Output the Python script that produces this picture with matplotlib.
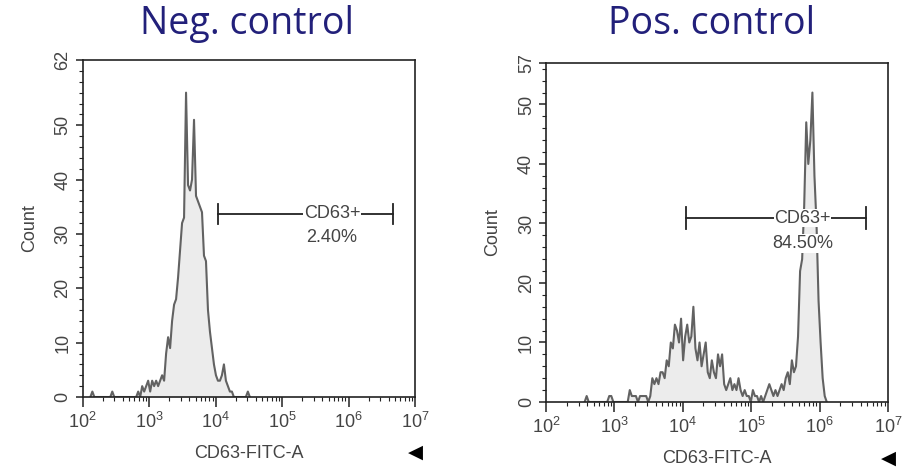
import numpy as np
import matplotlib
matplotlib.use("Agg")
import matplotlib.pyplot as plt
from matplotlib.ticker import LogLocator, FixedLocator, MultipleLocator, NullFormatter

plt.rcParams['font.family'] = ['Liberation Sans', 'DejaVu Sans']
plt.rcParams['mathtext.fontset'] = 'custom'
plt.rcParams['mathtext.rm'] = 'Liberation Sans'
plt.rcParams['mathtext.it'] = 'Liberation Sans'

# histogram bins: log10 of left edge of first bin, bin width in decades
bin_width = 0.03

neg_start = 2.10
neg_counts = [0, 1, 0, 0, 0, 0, 0, 0, 0, 0, 0, 1, 0, 0, 0, 0, 0, 0, 0, 0, 0, 0, 0, 0,
              1, 0, 2, 1, 2, 3, 1, 3, 2, 3, 2, 3, 4, 3, 8, 11, 9, 14, 17, 18, 22, 27,
              32, 33, 56, 39, 38, 40, 51, 37, 36, 35, 34, 26, 25, 16, 12, 9, 6, 4, 3,
              3, 4, 6, 3, 2, 1, 1, 0, 0, 0, 0, 0, 0, 0, 1, 0]

pos_start = 2.55
pos_counts = [0, 1, 0, 0, 0, 0, 0, 0, 0, 0, 0, 0, 1, 1, 0, 0, 0, 0, 0, 0, 0, 0,
              2, 1, 1, 1, 0, 1, 1, 1, 1, 0, 1, 4, 3, 4, 3, 5, 5, 4, 7, 6, 10, 9, 13,
              12, 10, 14, 7, 11, 13, 10, 11, 16, 9, 7, 10, 6, 8, 10, 5, 4, 7, 5, 4,
              8, 6, 8, 3, 2, 3, 4, 2, 3, 2, 4, 2, 1, 2, 1, 1, 0, 2, 1, 1, 0, 1, 0,
              1, 2, 3, 2, 1, 2, 1, 2, 3, 2, 4, 5, 3, 7, 5, 6, 11, 22, 24, 33, 47,
              40, 44, 52, 38, 30, 17, 10, 4, 1, 0]

panels = [
    # title, start, counts, ymax, gate (lo, hi, y), percent, axes rect, title x
    ("Neg. control", neg_start, neg_counts, 62, (4.04, 6.67, 33.7), "2.40%",
     [0.0906, 0.1535, 0.3639, 0.7185], 0.270),
    ("Pos. control", pos_start, pos_counts, 57, (4.04, 6.68, 30.9), "84.50%",
     [0.598, 0.1429, 0.3746, 0.7232], 0.779),
]

fig = plt.figure(figsize=(9.13, 4.69), dpi=100)

for title, start, counts, ymax, gate, pct, rect, title_x in panels:
    ax = fig.add_axes(rect)
    counts = np.array(counts, dtype=float)
    centers = 10 ** (start + bin_width * (np.arange(len(counts)) + 0.5))
    ax.fill_between(centers, 0, counts, color='#ececec', lw=0, zorder=1)
    ax.plot(centers, counts, color='#626262', lw=1.5, zorder=2)

    ax.set_xscale('log')
    ax.set_xlim(1e2, 1e7)
    ax.set_ylim(0, ymax)
    ax.xaxis.set_major_locator(LogLocator(base=10, numticks=10))
    ax.xaxis.set_minor_locator(LogLocator(base=10, subs=np.arange(2, 10), numticks=20))
    ax.xaxis.set_minor_formatter(NullFormatter())
    ax.yaxis.set_major_locator(FixedLocator([0, 10, 20, 30, 40, 50, ymax]))
    ax.yaxis.set_minor_locator(MultipleLocator(2))
    ax.tick_params(which='major', direction='out', length=5, width=1.1,
                   labelsize=13, colors='#222222', labelcolor='#444444')
    ax.tick_params(which='minor', direction='out', length=3, width=0.8, colors='#222222')
    ax.tick_params(axis='x', which='major', length=7, pad=4)
    ax.tick_params(axis='y', which='major', pad=3)
    for lab in ax.get_yticklabels():
        lab.set_rotation(90)
        lab.set_va('center')
    for s in ax.spines.values():
        s.set_linewidth(1.2)
        s.set_color('#222222')

    ax.set_xlabel('CD63-FITC-A', fontsize=13, color='#444444', labelpad=9)
    ax.set_ylabel('Count', fontsize=13, color='#444444', labelpad=12)

    lo, hi, gy = gate
    ax.plot([10 ** lo, 10 ** hi], [gy, gy], color='#222222', lw=1.3, zorder=3)
    for gx in (lo, hi):
        ax.plot([10 ** gx, 10 ** gx], [gy - 1.9, gy + 1.9], color='#222222', lw=1.3, zorder=3)
    mid = 10 ** 5.75
    ax.text(mid, gy, 'CD63+', ha='center', va='center', fontsize=13, color='#444444',
            bbox=dict(facecolor='white', edgecolor='none', pad=0.5), zorder=4)
    ax.text(mid, gy - 4.3, pct, ha='center', va='center', fontsize=13, color='#444444',
            bbox=dict(facecolor='white', edgecolor='none', pad=0.5), zorder=4)

    ax.text(1.0, -0.165, '\u25C0', transform=ax.transAxes, ha='center', va='center',
            fontsize=14, color='black', family='DejaVu Sans')

    fig.text(title_x, 0.948, title, ha='center', va='center', fontsize=27,
             color='#22207a', family='Open Sans')

fig.savefig('out.png', dpi=100)
